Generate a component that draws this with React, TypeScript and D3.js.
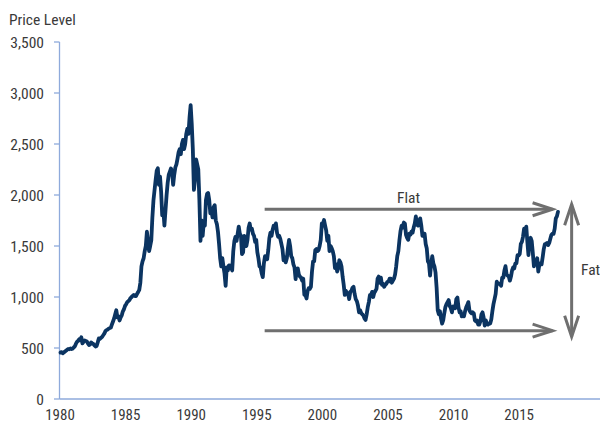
import React from "react";
import * as d3 from "d3";

// TOPIX-like monthly price level, Jan..Dec for each year
const startYear = 1980;
const p1980s = [
  455, 460, 448, 458, 465, 475, 482, 490, 488, 495, 490, 494,
  505, 515, 540, 560, 570, 585, 575, 605, 545, 560, 575, 570,
  565, 545, 530, 535, 555, 545, 540, 525, 515, 520, 555, 593,
  590, 600, 610, 625, 640, 665, 675, 680, 690, 695, 700, 731,
  760, 790, 830, 870, 800, 810, 770, 800, 820, 860, 880, 913,
  930, 950, 960, 970, 990, 1000, 1010, 1020, 1010, 1010, 1030, 1049,
  1070, 1140, 1300, 1350, 1380, 1450, 1500, 1640, 1550, 1450, 1500, 1556,
  1780, 1950, 2050, 2150, 2240, 2262, 2100, 2180, 2030, 1800, 1860, 1700,
  1850, 2000, 2120, 2200, 2230, 2260, 2230, 2100, 2200, 2270, 2300, 2357,
  2420, 2450, 2400, 2500, 2540, 2450, 2500, 2600, 2650, 2600, 2760, 2881,
];
const p1990s = [
  2700, 2450, 2050, 2150, 2350, 2300, 2250, 1950, 1550, 1750, 1600, 1733,
  1700, 1950, 2010, 2020, 1950, 1820, 1850, 1780, 1880, 1900, 1750, 1715,
  1640, 1520, 1380, 1300, 1380, 1300, 1230, 1110, 1290, 1260, 1310, 1307,
  1290, 1260, 1450, 1550, 1590, 1550, 1620, 1690, 1620, 1600, 1420, 1439,
  1600, 1580, 1500, 1560, 1680, 1720, 1660, 1670, 1620, 1600, 1540, 1559,
  1440, 1380, 1300, 1290, 1230, 1195, 1330, 1400, 1380, 1370, 1460, 1577,
  1630, 1600, 1660, 1700, 1680, 1722, 1630, 1590, 1600, 1570, 1520, 1470,
  1360, 1390, 1340, 1380, 1480, 1560, 1500, 1400, 1380, 1320, 1290, 1175,
  1260, 1280, 1220, 1200, 1190, 1160, 1180, 1020, 1020, 985, 1060, 1087,
  1080, 1100, 1250, 1350, 1350, 1460, 1470, 1450, 1460, 1500, 1560, 1722,
];
const p2000s = [
  1720, 1755, 1700, 1650, 1550, 1600, 1450, 1500, 1480, 1450, 1400, 1283,
  1320, 1250, 1280, 1360, 1340, 1300, 1200, 1120, 1020, 1060, 1040, 1032,
  980, 1050, 1060, 1090, 1100, 1030, 980, 960, 920, 850, 870, 843,
  830, 820, 790, 775, 830, 900, 950, 1020, 1020, 1050, 1000, 1043,
  1060, 1080, 1180, 1200, 1140, 1190, 1120, 1130, 1100, 1120, 1130, 1149,
  1150, 1180, 1180, 1140, 1160, 1180, 1220, 1300, 1400, 1450, 1560, 1649,
  1700, 1680, 1730, 1720, 1610, 1580, 1560, 1620, 1610, 1640, 1630, 1681,
  1720, 1790, 1710, 1700, 1750, 1770, 1700, 1600, 1620, 1620, 1520, 1475,
  1350, 1330, 1210, 1330, 1400, 1330, 1300, 1240, 1090, 870, 830, 860,
  790, 740, 770, 840, 900, 930, 950, 970, 910, 890, 850, 907,
];
const p2010s = [
  900, 890, 980, 995, 900, 850, 860, 810, 830, 810, 860, 898,
  920, 950, 870, 850, 840, 850, 840, 770, 760, 770, 730, 729,
  760, 830, 850, 800, 720, 770, 740, 730, 740, 740, 780, 860,
  930, 980, 1030, 1150, 1130, 1130, 1130, 1110, 1190, 1190, 1260, 1302,
  1220, 1210, 1200, 1160, 1200, 1260, 1290, 1280, 1330, 1330, 1410, 1407,
  1420, 1520, 1540, 1590, 1670, 1630, 1690, 1540, 1410, 1560, 1580, 1547,
  1430, 1300, 1350, 1340, 1380, 1250, 1320, 1330, 1320, 1390, 1470, 1519,
  1520, 1530, 1510, 1530, 1570, 1610, 1620, 1620, 1670, 1770, 1790, 1835,
];

const yTicks = [0, 500, 1000, 1500, 2000, 2500, 3000, 3500];
const xTicks = [1980, 1985, 1990, 1995, 2000, 2005, 2010, 2015];

// Annotation values
const flatHigh = 1860;
const flatLow = 670;
const flatStart = 1995.6;
const flatEnd = 2017.55;
const fatYear = 2019.0;

const series = [...p1980s, ...p1990s, ...p2000s, ...p2010s].map((v, i) => ({
  t: startYear + (i + 0.5) / 12,
  v,
}));

const W = 600;
const H = 424;
const FONT = "'Liberation Sans Narrow', 'Arial Narrow', 'Roboto Condensed', 'Liberation Sans', sans-serif";
const TEXT = "#3a3a3a";
const AXIS = "#8eaadb";
const LINE = "#0b3461";
const ARROW = "#6f6f6f";

export default function App() {
  const x = d3.scaleLinear().domain([1980, 2021.2]).range([60, 600.5]);
  const y = d3.scaleLinear().domain([0, 3500]).range([399, 42]);
  const line = d3
    .line<{ t: number; v: number }>()
    .x((d) => x(d.t))
    .y((d) => y(d.v));

  const head = (tx: number, ty: number, dir: "r" | "u" | "d") => {
    if (dir === "r") return `M${tx - 20},${ty - 6.5}L${tx},${ty}L${tx - 20},${ty + 6.5}`;
    if (dir === "u") return `M${tx - 7},${ty + 21}L${tx},${ty}L${tx + 7},${ty + 21}`;
    return `M${tx - 7},${ty - 21}L${tx},${ty}L${tx + 7},${ty - 21}`;
  };

  const fx = x(fatYear);
  const fTop = y(flatHigh) - 5;
  const fBot = y(flatLow) + 6;

  return (
    <svg width={W} height={H} style={{ position: "absolute", left: 0, top: 0, background: "#fff" }} fontFamily={FONT}>
      <text x={9} y={25} fontSize={15.5} fill={TEXT}>Price Level</text>
      {/* y axis */}
      <line x1={59.5} x2={59.5} y1={y(3500)} y2={399} stroke={AXIS} strokeWidth={1.3} />
      {yTicks.map((t) => (
        <g key={t}>
          <line x1={54} x2={59.5} y1={y(t)} y2={y(t)} stroke={AXIS} strokeWidth={1.3} />
          <text x={44} y={y(t) + 5.5} fontSize={15.5} fill={TEXT} textAnchor="end">
            {d3.format(",")(t)}
          </text>
        </g>
      ))}
      {/* x axis */}
      <line x1={59.5} x2={600} y1={399} y2={399} stroke={AXIS} strokeWidth={1.3} />
      {xTicks.map((t) => (
        <text key={t} x={x(t)} y={419.5} fontSize={15} fill={TEXT} textAnchor="middle">
          {t}
        </text>
      ))}
      {/* series */}
      <path d={line(series) || ""} fill="none" stroke={LINE} strokeWidth={3.8} strokeLinejoin="round" strokeLinecap="round" />
      {/* annotations */}
      <g stroke={ARROW} strokeWidth={3} fill="none">
        <line x1={x(flatStart)} x2={x(flatEnd)} y1={y(flatHigh)} y2={y(flatHigh)} />
        <path d={head(x(flatEnd), y(flatHigh), "r")} />
        <line x1={x(flatStart)} x2={x(flatEnd)} y1={y(flatLow)} y2={y(flatLow)} />
        <path d={head(x(flatEnd), y(flatLow), "r")} />
        <line x1={fx} x2={fx} y1={fTop} y2={fBot} />
        <path d={head(fx, fTop, "u")} />
        <path d={head(fx, fBot, "d")} />
      </g>
      <text x={(x(flatStart) + x(flatEnd)) / 2} y={203} fontSize={15.5} fill={TEXT} textAnchor="middle">Flat</text>
      <text x={581} y={275} fontSize={15.5} fill={TEXT}>Fat</text>
    </svg>
  );
}
